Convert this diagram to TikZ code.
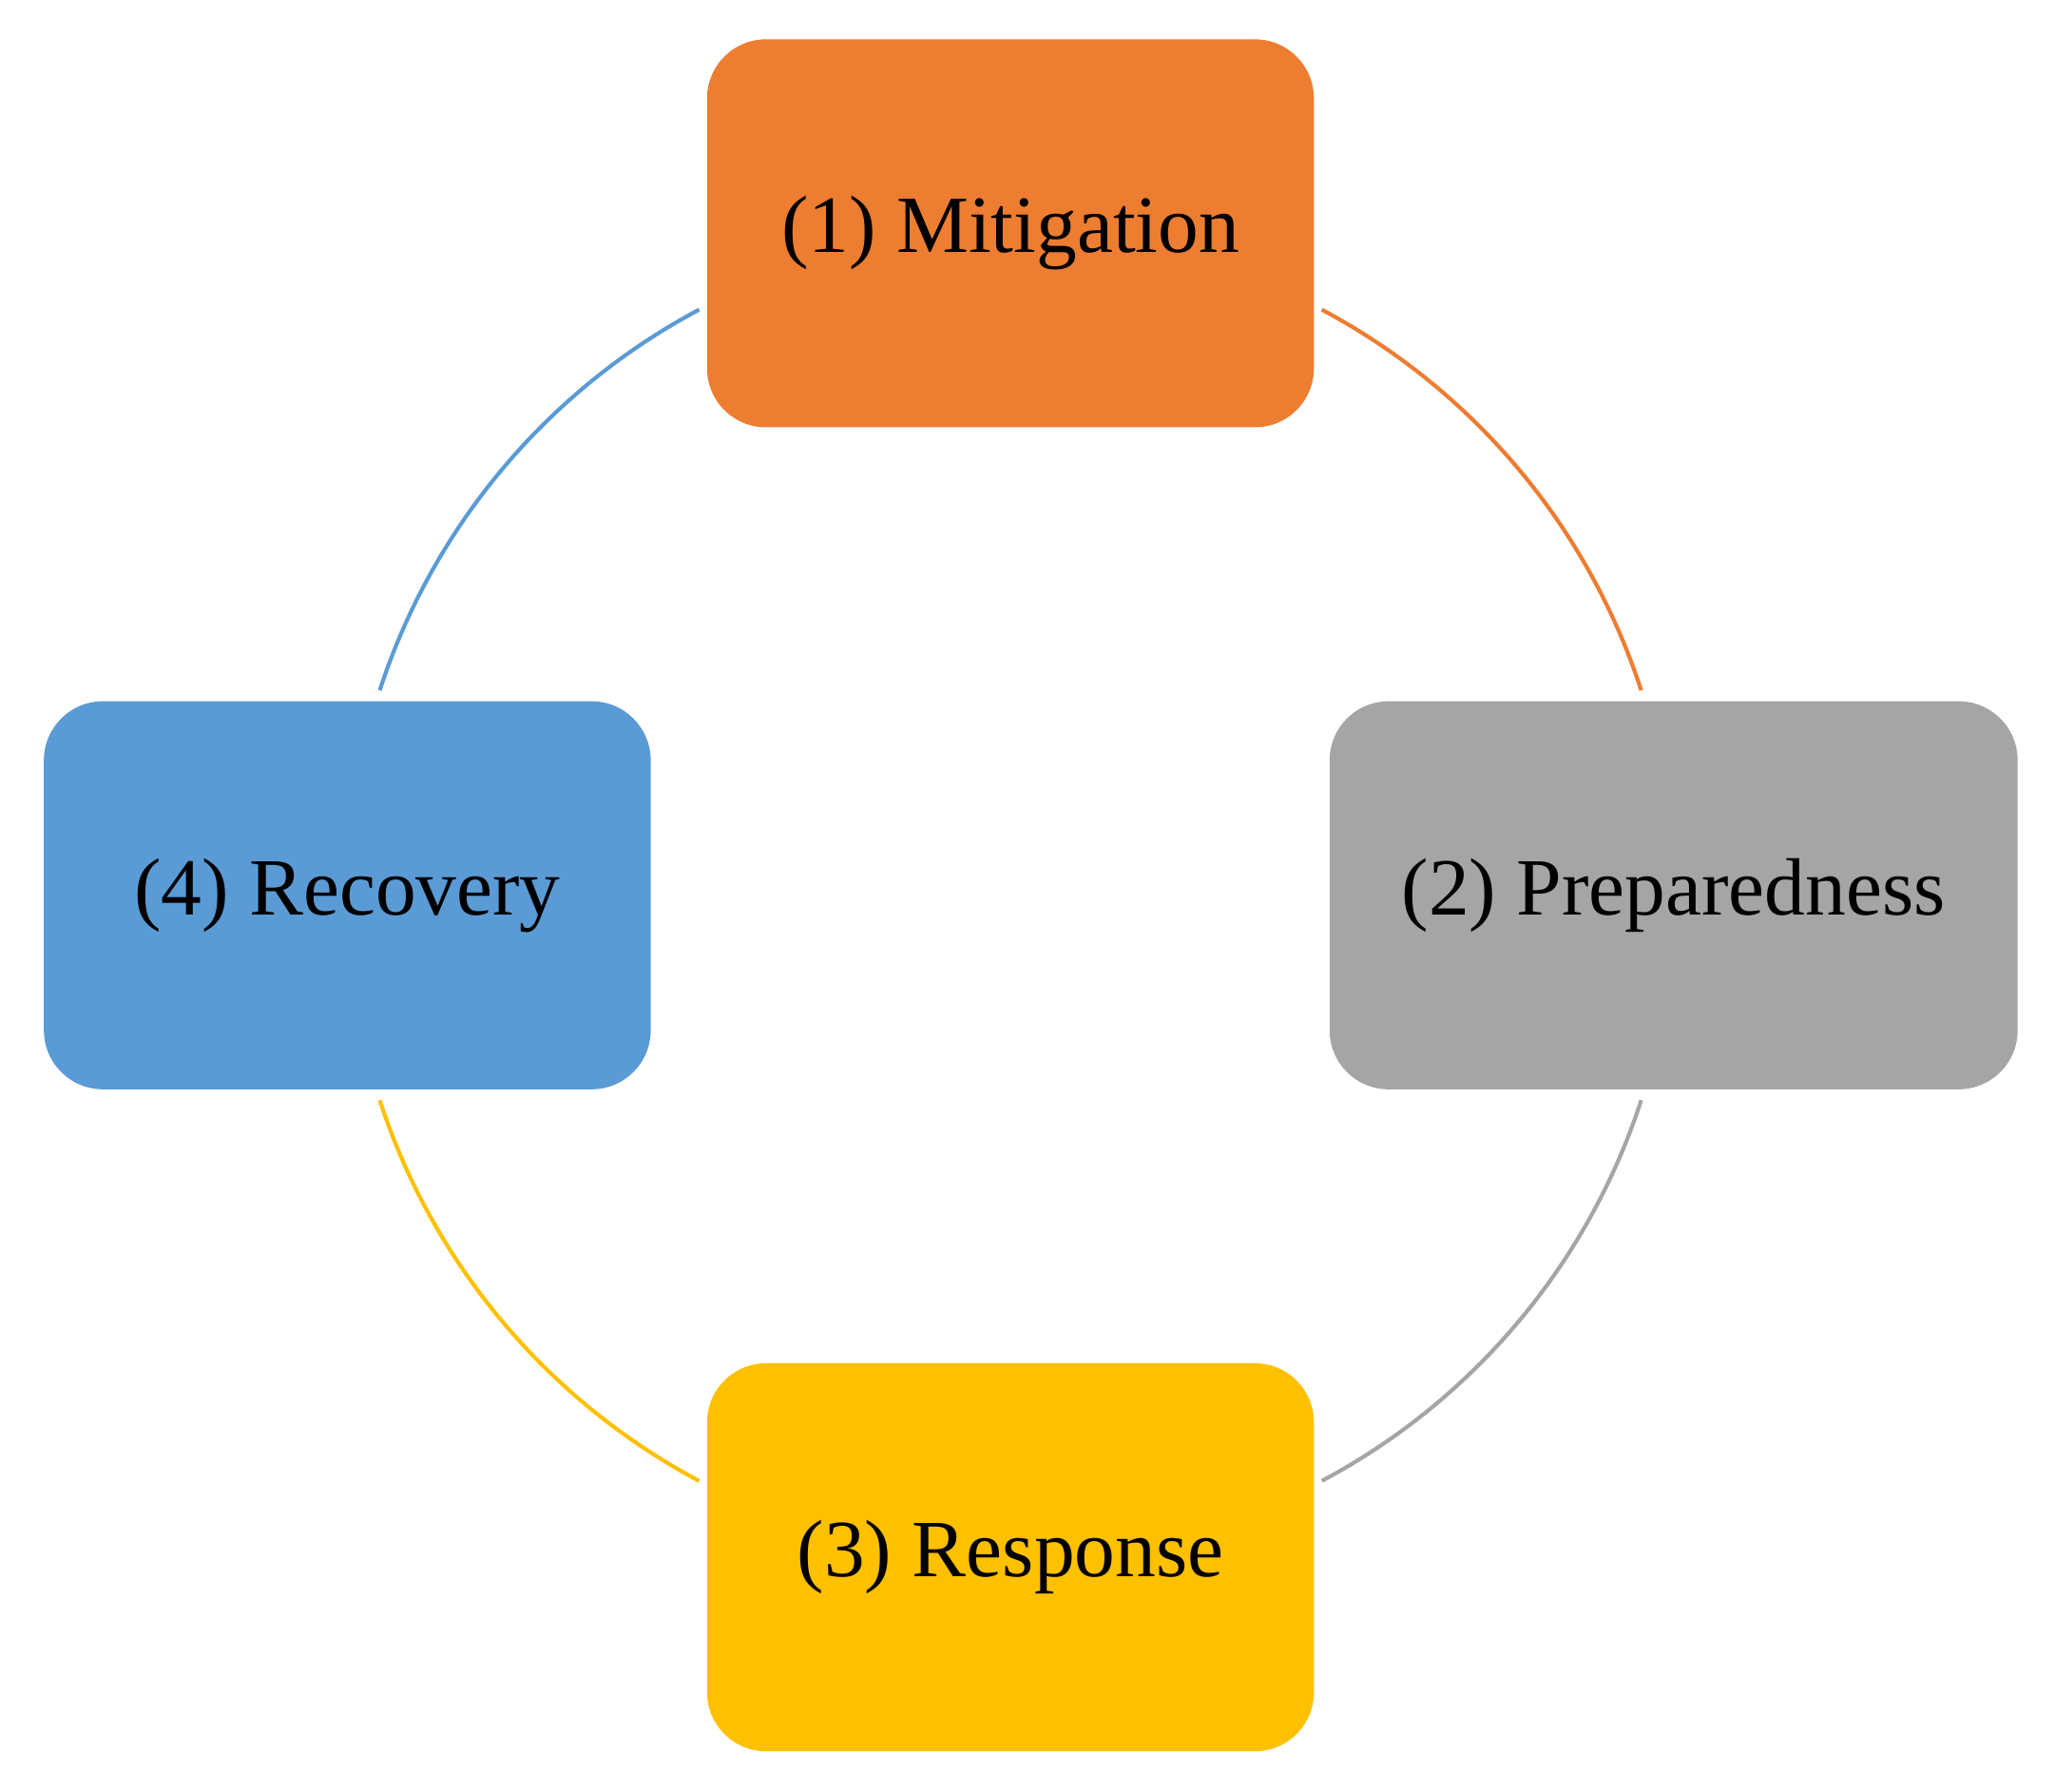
\documentclass[tikz,border=0pt]{standalone}
\usepackage{fontspec}
\setmainfont{Liberation Serif}
\definecolor{cOr}{HTML}{ED7D31}
\definecolor{cGr}{HTML}{A5A5A5}
\definecolor{cYe}{HTML}{FFC000}
\definecolor{cBl}{HTML}{5B9BD5}
\begin{document}
\begin{tikzpicture}[x=1pt,y=-1pt,
  box/.style={rounded corners=45pt,minimum width=463pt,minimum height=296pt,inner sep=0pt,font=\fontsize{62}{70}\selectfont,text=black},
  arc/.style={line width=3pt}]
\useasboundingbox (0,0) rectangle (1568,1367);
\node[box,fill=cOr] (m) at (771,178) {(1) Mitigation};
\node[box,fill=cGr,minimum width=525pt] (p) at (1277,683) {(2) Preparedness};
\node[box,fill=cYe] (r) at (771,1188) {(3) Response};
\node[box,fill=cBl] (v) at (265,683) {(4) Recovery};
\coordinate (c) at (771,683);
\draw[arc,cOr] ([shift={(62:506 and -506)}]c) arc[start angle=62,end angle=18,x radius=506,y radius=-506];
\draw[arc,cGr] ([shift={(-18:506 and -506)}]c) arc[start angle=-18,end angle=-62,x radius=506,y radius=-506];
\draw[arc,cYe] ([shift={(-118:506 and -506)}]c) arc[start angle=-118,end angle=-162,x radius=506,y radius=-506];
\draw[arc,cBl] ([shift={(162:506 and -506)}]c) arc[start angle=162,end angle=118,x radius=506,y radius=-506];
\end{tikzpicture}
\end{document}
